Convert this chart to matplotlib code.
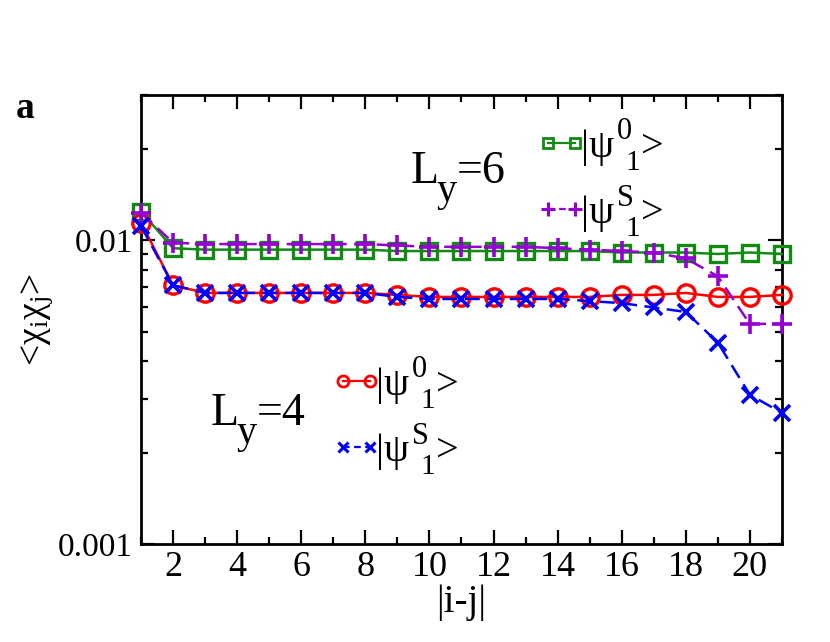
import matplotlib
matplotlib.use("Agg")
import matplotlib.pyplot as plt
from matplotlib.lines import Line2D
from matplotlib.legend_handler import HandlerLine2D
from matplotlib.ticker import MultipleLocator, LogLocator, FixedLocator, FixedFormatter, NullFormatter

plt.rcParams['font.family'] = ['Liberation Serif', 'DejaVu Serif']
plt.rcParams['mathtext.fontset'] = 'custom'
plt.rcParams['mathtext.rm'] = 'Liberation Serif'
plt.rcParams['mathtext.it'] = 'Liberation Serif'
plt.rcParams['mathtext.default'] = 'rm'

x = list(range(1, 22))
green_L6_psi0 = [0.0124, 0.0094, 0.0093, 0.0093, 0.0093, 0.0093, 0.0093, 0.0093, 0.0092, 0.0092,
                 0.0092, 0.0092, 0.0092, 0.0092, 0.0092, 0.0091, 0.0091, 0.0091, 0.0090, 0.0091, 0.0090]
purple_L6_psiS = [0.0123, 0.0098, 0.0097, 0.0097, 0.0097, 0.0097, 0.0097, 0.0097, 0.0096, 0.0095,
                  0.0095, 0.0095, 0.0095, 0.0094, 0.0093, 0.0092, 0.0091, 0.0087, 0.0076, 0.0053, 0.0053]
red_L4_psi0 = [0.0114, 0.0071, 0.0067, 0.0067, 0.0067, 0.0067, 0.0067, 0.0067, 0.0066, 0.0065,
               0.0065, 0.0065, 0.0065, 0.0065, 0.0065, 0.0066, 0.0066, 0.0067, 0.0065, 0.0065, 0.0066]
blue_L4_psiS = [0.0111, 0.0071, 0.0067, 0.0067, 0.0067, 0.0067, 0.0067, 0.0067, 0.0065, 0.0064,
                0.0064, 0.0064, 0.0064, 0.0064, 0.0063, 0.0062, 0.0060, 0.0058, 0.0046, 0.0031, 0.0027]

state_sup = ['0', 'S', '0', 'S']   # |psi^0_1>, |psi^S_1>
state_sub = '1'

GREEN = '#138a13'
PURPLE = '#9400d3'
RED = '#ff0000'
BLUE = '#0000ff'

fig = plt.figure(figsize=(8.3, 6.42), dpi=100)
ax = fig.add_axes([0.170, 0.1526, 0.772, 0.6994])

lw = 1.8
ax.plot(x, green_L6_psi0, '-', color=GREEN, lw=lw, marker='s', ms=11, mew=2.4,
        fillstyle='none', clip_on=False, zorder=3)
ax.plot(x, purple_L6_psiS, '--', color=PURPLE, lw=lw, marker='+', ms=15, mew=2.6,
        dashes=(6, 3), clip_on=False, zorder=4)
ax.plot(x, red_L4_psi0, '-', color=RED, lw=lw, marker='o', ms=12.5, mew=2.4,
        fillstyle='none', clip_on=False, zorder=3)
ax.plot(x, blue_L4_psiS, '--', color=BLUE, lw=lw, marker='x', ms=11, mew=2.6,
        dashes=(6, 3), clip_on=False, zorder=4)

ax.set_yscale('log')
ax.set_xlim(1, 21)
ax.set_ylim(0.001, 0.03)

ax.xaxis.set_major_locator(MultipleLocator(2))
ax.xaxis.set_minor_locator(MultipleLocator(1))
ax.yaxis.set_major_locator(FixedLocator([0.001, 0.01]))
ax.yaxis.set_major_formatter(FixedFormatter(['0.001', '0.01']))
ax.yaxis.set_minor_locator(LogLocator(base=10, subs=range(2, 10)))
ax.yaxis.set_minor_formatter(NullFormatter())

ax.tick_params(which='both', direction='in', top=True, right=True, width=1.6, pad=6)
ax.tick_params(axis='x', labelsize=26, pad=5)
ax.tick_params(axis='y', labelsize=24)
ax.tick_params(which='major', length=10)
ax.tick_params(which='minor', length=5)
for s in ax.spines.values():
    s.set_linewidth(2.0)

ax.set_xlabel('|i-j|', fontsize=28, labelpad=0)
ax.set_ylabel('<χ$_{i}$χ$_{j}$>', fontsize=27, labelpad=2)

fig.text(0.019, 0.816, 'a', fontsize=27, fontweight='bold')

# ---- legends (keys drawn by the legend machinery) ----
h6 = [Line2D([], [], color=GREEN, lw=1.6, marker='s', ms=6.5, mew=2, fillstyle='none'),
      Line2D([], [], color=PURPLE, lw=1.6, ls='--', dashes=(3, 2), marker='+', ms=10, mew=2.2)]
h4 = [Line2D([], [], color=RED, lw=1.6, marker='o', ms=8, mew=2, fillstyle='none'),
      Line2D([], [], color=BLUE, lw=1.6, ls='--', dashes=(3, 2), marker='x', ms=7, mew=2.2)]

LFS = 29
common = dict(loc='upper left', frameon=False, numpoints=2, handlelength=0.67,
              handletextpad=0.16, labelspacing=0.72, fontsize=LFS, borderaxespad=0,
              borderpad=0, handler_map={Line2D: HandlerLine2D(marker_pad=0.0, numpoints=2)})
leg6 = ax.legend(h6, ['|ψ', '|ψ'], bbox_to_anchor=(0.635, 0.925), **common)
ax.add_artist(leg6)
leg4 = ax.legend(h4, ['|ψ', '|ψ'], bbox_to_anchor=(0.315, 0.395), **common)


def add_scripts(base, sup):
    # superscript, subscript (staggered) and closing '>' placed relative to '|ψ'
    ax.annotate(sup, xy=(1, 0), xycoords=base, xytext=(2, 19),
                textcoords='offset points', fontsize=22, va='baseline', ha='left',
                zorder=7, annotation_clip=False)
    s2 = ax.annotate(state_sub, xy=(1, 0), xycoords=base, xytext=(8, -3),
                     textcoords='offset points', fontsize=21, va='baseline', ha='left',
                     zorder=7, annotation_clip=False)
    ax.annotate('>', xy=(1, 0), xycoords=(s2, base), xytext=(0.5, 6.5),
                textcoords='offset points', fontsize=LFS, va='baseline', ha='left',
                zorder=8, annotation_clip=False)


texts = leg6.get_texts() + leg4.get_texts()
for t, sup in zip(texts, state_sup):
    add_scripts(t, sup)


def ly_label(xa, ya, value):
    L = ax.text(xa, ya, 'L', transform=ax.transAxes, fontsize=33, va='baseline')
    y = ax.annotate('y', xy=(1, 0), xycoords=L, xytext=(-1.5, -5.8),
                    textcoords='offset points', fontsize=29, va='baseline', ha='left')
    ax.annotate('=' + value, xy=(1, 0), xycoords=(y, L), xytext=(0, 7.2),
                textcoords='offset points', fontsize=33, va='baseline', ha='left')


ly_label(0.421, 0.804, '6')
ly_label(0.109, 0.265, '4')

fig.savefig('out.png', dpi=100)
